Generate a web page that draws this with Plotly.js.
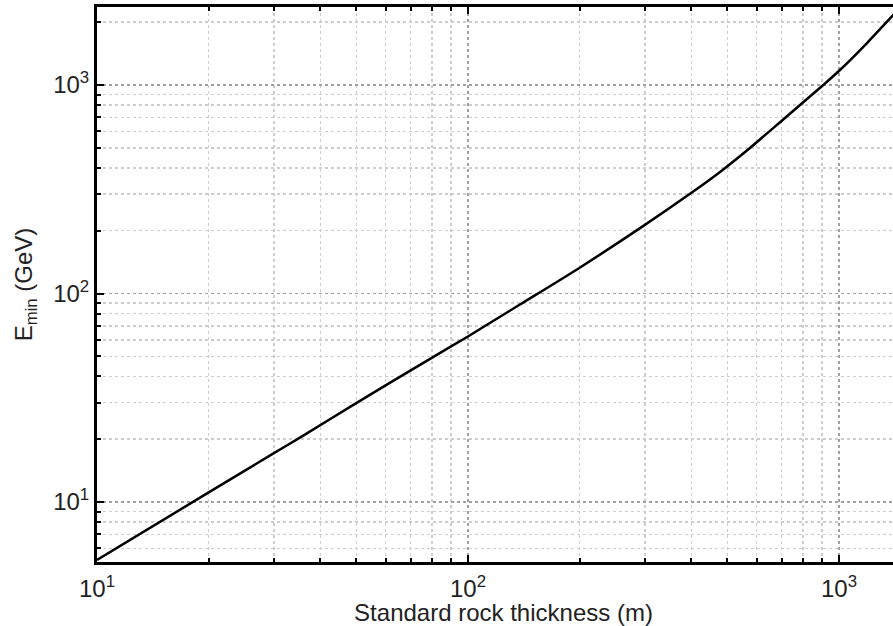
<!DOCTYPE html>
<html>
<head>
<meta charset="utf-8">
<script src="https://cdn.plot.ly/plotly-3.0.1.min.js"></script>
<style>
html, body { margin: 0; padding: 0; overflow: hidden; background: #fff; }
#chart { width: 910px; height: 626px; }
</style>
</head>
<body>
<div id="chart"></div>
<script>
// Data
const thickness = [10, 19.8, 29.9, 35.6, 50.1, 75.8, 100.2, 138, 200, 297, 401, 478, 570, 715, 907, 1006, 1188, 1387, 1420];
const eMin = [5.27, 11.0, 17.1, 20.6, 29.9, 46.5, 62.4, 88.5, 133, 211, 305, 383, 492, 695, 1000, 1180, 1585, 2126, 2220];

const majorVals = [1, 10, 100, 1000, 10000];
const majorText = ['10<sup>0</sup>', '10<sup>1</sup>', '10<sup>2</sup>', '10<sup>3</sup>', '10<sup>4</sup>'];
const minorMult = [2, 3, 4, 5, 6, 7, 8, 9];
const minorVals = [];
[1, 10, 100, 1000].forEach(d => minorMult.forEach(m => minorVals.push(m * d)));

const font = { family: 'Liberation Sans, Arial, sans-serif', size: 24, color: '#222' };

const axisCommon = {
  type: 'log',
  tickmode: 'array',
  tickvals: majorVals,
  ticktext: majorText,
  ticks: 'inside',
  ticklen: 7,
  tickwidth: 2,
  tickcolor: '#000',
  showline: true,
  linecolor: '#000',
  linewidth: 3,
  mirror: 'allticks',
  showgrid: true,
  gridcolor: '#a0a0a0',
  gridwidth: 1.5,
  griddash: '3px,3px',
  zeroline: false,
  tickfont: font,
  minor: {
    tickmode: 'array',
    tickvals: minorVals,
    ticks: 'inside',
    ticklen: 4,
    tickwidth: 2,
    tickcolor: '#000',
    showgrid: true,
    gridcolor: '#cdcdcd',
    gridwidth: 1.5,
    griddash: '3px,3px'
  }
};

const trace = {
  x: thickness,
  y: eMin,
  type: 'scatter',
  mode: 'lines',
  line: { color: '#000', width: 2.5, shape: 'spline', smoothing: 0.8 },
  hoverinfo: 'skip'
};

const layout = {
  width: 910,
  height: 626,
  margin: { l: 97, r: 0, t: 7, b: 64 },
  paper_bgcolor: '#fff',
  plot_bgcolor: '#fff',
  showlegend: false,
  font: font,
  xaxis: Object.assign({}, axisCommon, {
    range: [1, 1 + 813 / 371],
    title: { text: 'Standard rock thickness (m)', font: font, standoff: 1 },
    ticklabelstandoff: 3
  }),
  yaxis: Object.assign({}, axisCommon, {
    range: [1 - 60 / 208.5, 3 + 78 / 208.5],
    title: { text: 'E<sub>min</sub> (GeV)', font: font, standoff: 14 },
    ticklabelstandoff: 0
  })
};

Plotly.newPlot('chart', [trace], layout, { staticPlot: true, displayModeBar: false });
</script>
</body>
</html>
